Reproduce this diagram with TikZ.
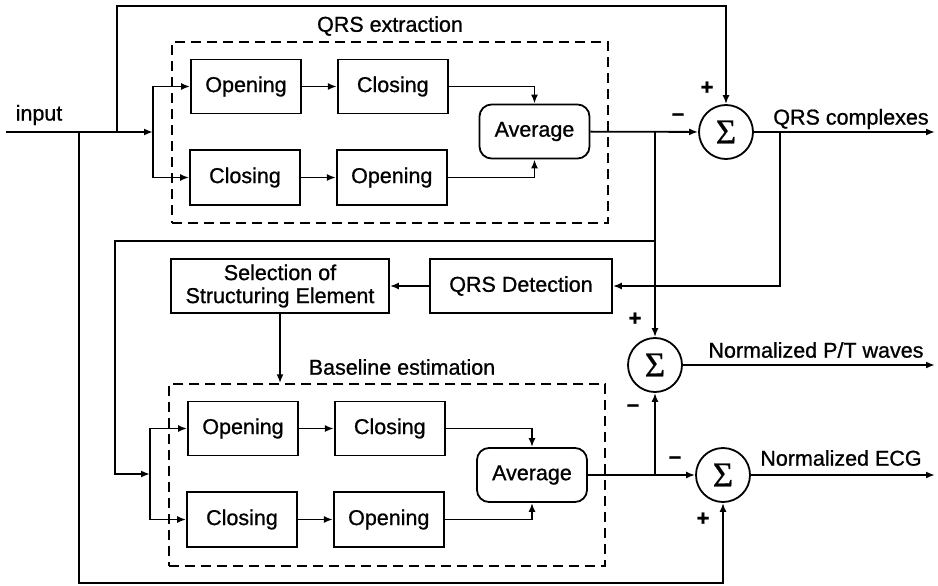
\documentclass[tikz,border=0pt]{standalone}
\usepackage{fontspec}
\setmainfont{Liberation Sans}[FakeBold=0.9]
\newfontfamily\sigmafont{Liberation Serif}[FakeBold=0.6]
\usepackage{tikz}
\usetikzlibrary{positioning}
\usetikzlibrary{arrows.meta}

\begin{document}
\begin{tikzpicture}[x=1pt, y=-1pt, node distance=35pt,
  >={Latex[length=9pt,width=7pt]}, line width=1.8pt,
  every node/.style={font=\fontsize{21.5}{23}\selectfont},
  blk/.style={draw, minimum width=110pt, minimum height=54pt, inner sep=0pt},
  avgbox/.style={blk, rounded corners=12pt},
  sumnode/.style={draw, circle, minimum size=54pt, inner sep=0pt, font=\sigmafont\fontsize{35}{35}\selectfont},
  grp/.style={draw, dash pattern=on 10pt off 6pt, line width=1.5pt},
  sgn/.style={font=\fontsize{22}{22}\selectfont\bfseries}]
\useasboundingbox (0,0) rectangle (938,586);
%%%%%%%%%%%%%% QRS extraction
\coordinate (in) at (6,132);
\node (inlbl) at (39,115) {input};
\coordinate (j1) at (79,132);
\coordinate (j2) at (117,132);
\coordinate (ctop) at (117,6);
\coordinate (split1) at (153,132);
\node[grp, minimum width=436pt, minimum height=181pt] (qrsbox) at (390,132.5) {};
\node (qrslbl) at (390,26) {QRS extraction};
\node[blk] (open1) at (246,86.5) {Opening};
\node[blk, right=of open1] (close1) {Closing};
\node[blk, minimum height=55pt] (close2) at (245,177.5) {Closing};
\node[blk, minimum height=55pt, right=of close2] (open2) {Opening};
\node[avgbox] (avg1) at (534.5,131.5) {Average};
\node[sumnode] (sum1) at (726,132) {Σ};
\node[sgn] (p1) at (707,88) {+};
\node[sgn] (m1) at (678,117) {--};
\coordinate (j3) at (780,132);
\coordinate (j4) at (655,132);
\coordinate (out1) at (935,132);
\node (lbl1) at (851,119) {QRS complexes};
%%%%%%%%%%%%%% detection
\node[blk, minimum width=182pt] (detect) at (521,286) {QRS Detection};
\node[blk, minimum width=218pt, align=center] (select) at (280,286) {Selection of\\Structuring Element};
\coordinate (fb1) at (655,241);
\coordinate (fb2) at (115,241);
%%%%%%%%%%%%%% Baseline estimation
\coordinate (split2) at (150,474);
\node[grp, minimum width=436pt, minimum height=182pt] (basebox) at (387,475) {};
\node (baselbl) at (402,367) {Baseline estimation};
\node[blk] (open3) at (243,428.5) {Opening};
\node[blk, right=of open3] (close3) {Closing};
\node[blk, minimum height=55pt] (close4) at (242,519.5) {Closing};
\node[blk, minimum height=55pt, right=of close4] (open4) {Opening};
\node[avgbox] (avg2) at (532,475) {Average};
\coordinate (j5) at (655,475);
\node[sumnode] (sum2) at (655,365) {Σ};
\node[sgn] (p2) at (635,319) {+};
\node[sgn] (m2) at (633,408) {--};
\node[sumnode] (sum3) at (723,475) {Σ};
\node[sgn] (m3) at (675,460) {--};
\node[sgn] (p3) at (703,519) {+};
\coordinate (cbot) at (79,583);
\coordinate (out2) at (935,365);
\coordinate (out3) at (935,475);
\node (lbl2) at (816,350) {Normalized P/T waves};
\node (lbl3) at (841,458) {Normalized ECG};

\draw[->] (in) -- (split1);
\draw[->] (split1) |- (open1);
\draw[->] (split1) |- (close2);
\draw[->] (open1) -- (close1);
\draw[->] (close2) -- (open2);
\draw[->] (close1) -| (avg1);
\draw[->] (open2) -| (avg1);
\draw[->] (avg1) -- (sum1);
\draw[->] (j2) -- (ctop) -| (sum1);
\draw[->] (sum1) -- (out1);
%%%%%%%%%%
\draw[->] (j3) |- (detect);
\draw[->] (detect) -- (select);
\draw[->] (select) -- (select |- basebox.north);
\draw[->] (j4) -- (sum2);
\draw[->] (fb1) -- (fb2) |- (split2);
%%%%%%%%%%
\draw[->] (split2) |- (open3);
\draw[->] (split2) |- (close4);
\draw[->] (open3) -- (close3);
\draw[->] (close4) -- (open4);
\draw[->] (close3) -| (avg2);
\draw[->] (open4) -| (avg2);
\draw[->] (avg2) -- (sum3);
\draw[->] (j5) -- (sum2);
\draw[->] (j1) -- (cbot) -| (sum3);
\draw[->] (sum2) -- (out2);
\draw[->] (sum3) -- (out3);
\end{tikzpicture}
\end{document}
